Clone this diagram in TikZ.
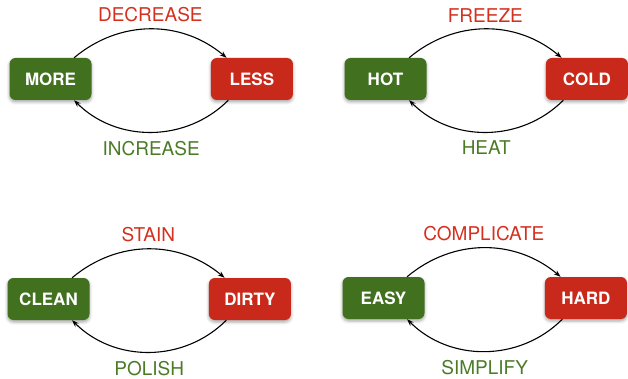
\documentclass[tikz,border=0pt]{standalone}
\usepackage{fontspec}
\setmainfont{TeX Gyre Heros}
\usetikzlibrary{positioning,arrows.meta,shadows.blur}

\definecolor{upgreen}{HTML}{41701F}
\definecolor{downred}{HTML}{C9291A}
\definecolor{labgreen}{HTML}{4B7B26}
\definecolor{labred}{HTML}{D4301F}

\begin{document}
\begin{tikzpicture}[x=1pt, y=-1pt,
good/.style={rectangle, rounded corners=6pt, fill=upgreen, text=white, font=\bfseries\fontsize{17}{19}\selectfont, minimum width=82pt, minimum height=42pt, blur shadow={shadow xshift=0pt, shadow yshift=-2pt, shadow blur radius=3pt, shadow opacity=35}},
bad/.style={good, fill=downred},
fwd/.style={-{Stealth[length=7pt,width=5pt]}, line width=1.1pt, bend left=40},
back/.style={fwd, bend left=45},
redlabel/.style={text=labred, font=\fontsize{19}{21}\selectfont},
greenlabel/.style={text=labgreen, font=\fontsize{19}{21}\selectfont},
]
\useasboundingbox (0,0) rectangle (628,379);

% more / less
\node[good] (more) at (50.5,79) {MORE};
\node[bad, right=119pt of more] (less) {LESS};
\draw[fwd] (more.42) to node[above=3pt, redlabel] {DECREASE} (less.140);
\draw[back] (less.222) to node[below=5pt, greenlabel] {INCREASE} (more.318);

% hot / cold
\node[good] (hot) at (385.5,79) {HOT};
\node[bad, right=119pt of hot] (cold) {COLD};
\draw[fwd] (hot.42) to node[above=3pt, redlabel] {FREEZE} (cold.140);
\draw[back] (cold.222) to node[below=5pt, greenlabel] {HEAT} (hot.318);

% clean / dirty
\node[good] (clean) at (48.5,299) {CLEAN};
\node[bad, right=119pt of clean] (dirty) {DIRTY};
\draw[fwd] (clean.42) to node[above=3pt, redlabel] {STAIN} (dirty.140);
\draw[back] (dirty.222) to node[below=5pt, greenlabel] {POLISH} (clean.318);

% easy / hard
\node[good] (easy) at (383.5,298) {EASY};
\node[bad, right=120pt of easy] (hard) {HARD};
\draw[fwd] (easy.42) to node[above=3pt, redlabel] {COMPLICATE} (hard.140);
\draw[back] (hard.222) to node[below=5pt, greenlabel] {SIMPLIFY} (easy.318);

\end{tikzpicture}
\end{document}
